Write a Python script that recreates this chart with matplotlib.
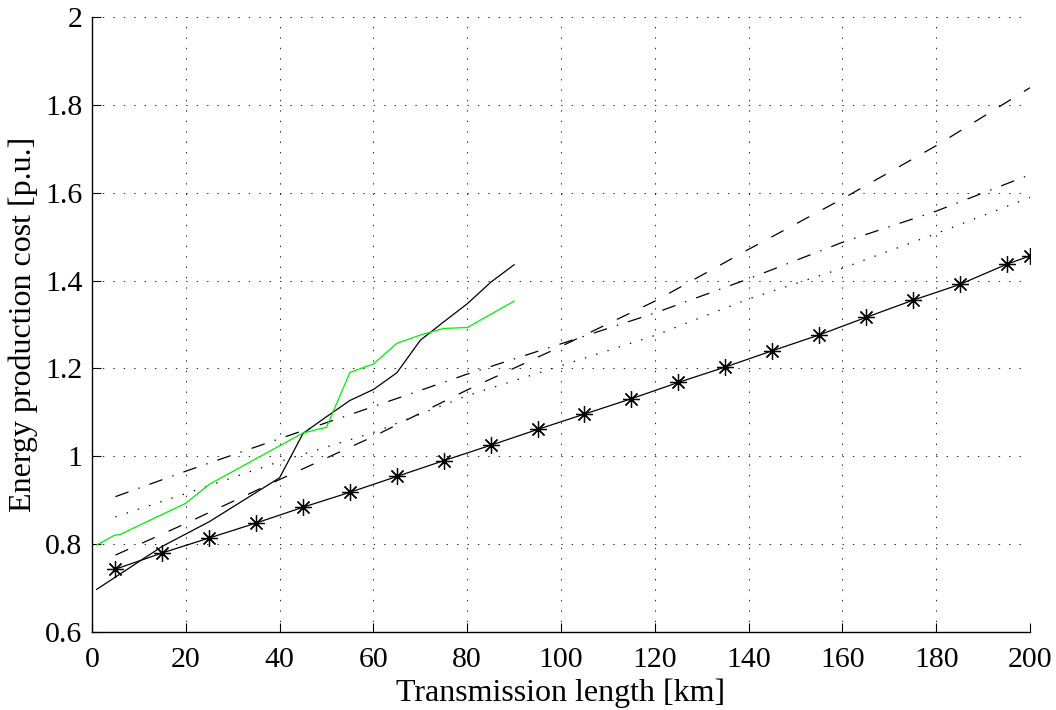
import numpy as np
import matplotlib
matplotlib.use('Agg')
import matplotlib.pyplot as plt

plt.rcParams['font.family'] = ['Liberation Serif', 'DejaVu Serif']
plt.rcParams['font.size'] = 21.5
plt.rcParams['lines.scale_dashes'] = False

# line with asterisk markers
star_km = [5, 15, 25, 35, 45, 55, 65, 75, 85, 95, 105, 115, 125, 135, 145,
           155, 165, 175, 185, 195, 200]
star_cost = [0.743, 0.780, 0.814, 0.848, 0.884, 0.918, 0.954, 0.990, 1.025,
             1.061, 1.096, 1.131, 1.168, 1.203, 1.240, 1.276, 1.316, 1.355,
             1.391, 1.437, 1.456]

# smooth reference curves
ref_km = [5, 20, 40, 60, 80, 100, 120, 140, 160, 180, 200]
dashed_cost = [0.775, 0.847, 0.947, 1.045, 1.151, 1.250, 1.353, 1.471, 1.586,
               1.707, 1.839]
dashdot_cost = [0.908, 0.966, 1.040, 1.113, 1.187, 1.256, 1.326, 1.404, 1.487,
                1.558, 1.641]
dotted_cost = [0.862, 0.915, 0.988, 1.054, 1.138, 1.206, 1.275, 1.358, 1.428,
               1.507, 1.589]

# short-range curves (black and green)
black_km = [1, 15, 25, 40, 45, 50, 55, 60, 65, 70, 75, 80, 85, 90]
black_cost = [0.697, 0.795, 0.851, 0.951, 1.052, 1.090, 1.127, 1.152, 1.190,
              1.264, 1.306, 1.347, 1.396, 1.436]
green_km = [1, 4.8, 6, 20, 25, 45, 50, 55, 60, 65, 70, 75, 80, 90]
green_cost = [0.798, 0.820, 0.822, 0.893, 0.936, 1.053, 1.066, 1.191, 1.210,
              1.257, 1.276, 1.291, 1.293, 1.353]

x_ticks = list(range(0, 201, 20))
y_ticks = [0.6, 0.8, 1.0, 1.2, 1.4, 1.6, 1.8, 2.0]
y_tick_labels = ['0.6', '0.8', '1', '1.2', '1.4', '1.6', '1.8', '2']

fig = plt.figure(figsize=(10.56, 7.10), dpi=100)
ax = fig.add_axes([0.0871, 0.1099, 0.8883, 0.8662])

lw = 0.9
ax.plot(ref_km, dashed_cost, color='black', lw=lw, linestyle=(0, (10, 11)))
ax.plot(ref_km, dashdot_cost, color='black', lw=lw,
        linestyle=(0, (10, 7.5, 1, 7.5)))
ax.plot(ref_km, dotted_cost, color='black', lw=lw, linestyle=(0, (1, 7.5)))
ax.plot(black_km, black_cost, color='black', lw=lw)
ax.plot(green_km, green_cost, color='#00ee00', lw=lw)
ax.plot(star_km, star_cost, color='black', lw=lw, marker=(8, 2, 0),
        markersize=12, markeredgewidth=0.9)

ax.set_xlim(0, 200)
ax.set_ylim(0.6, 2.0)
ax.set_xticks(x_ticks)
ax.set_yticks(y_ticks)
ax.set_yticklabels(y_tick_labels)

ax.grid(True, color='black', linestyle=(0, (1, 6.5)), linewidth=0.6)
ax.spines['top'].set_visible(False)
ax.spines['right'].set_visible(False)
ax.spines['left'].set_linewidth(1.0)
ax.spines['bottom'].set_linewidth(1.0)
ax.tick_params(direction='in', length=6.5, width=0.8, top=False, right=False)
ax.tick_params(axis='x', pad=10.5)
ax.tick_params(axis='y', pad=7)

ax.set_xlabel('Transmission length [km]', fontsize=23, labelpad=4)
ax.set_ylabel('Energy production cost [p.u.]', fontsize=23, labelpad=5)

fig.savefig('out.png', dpi=100)
